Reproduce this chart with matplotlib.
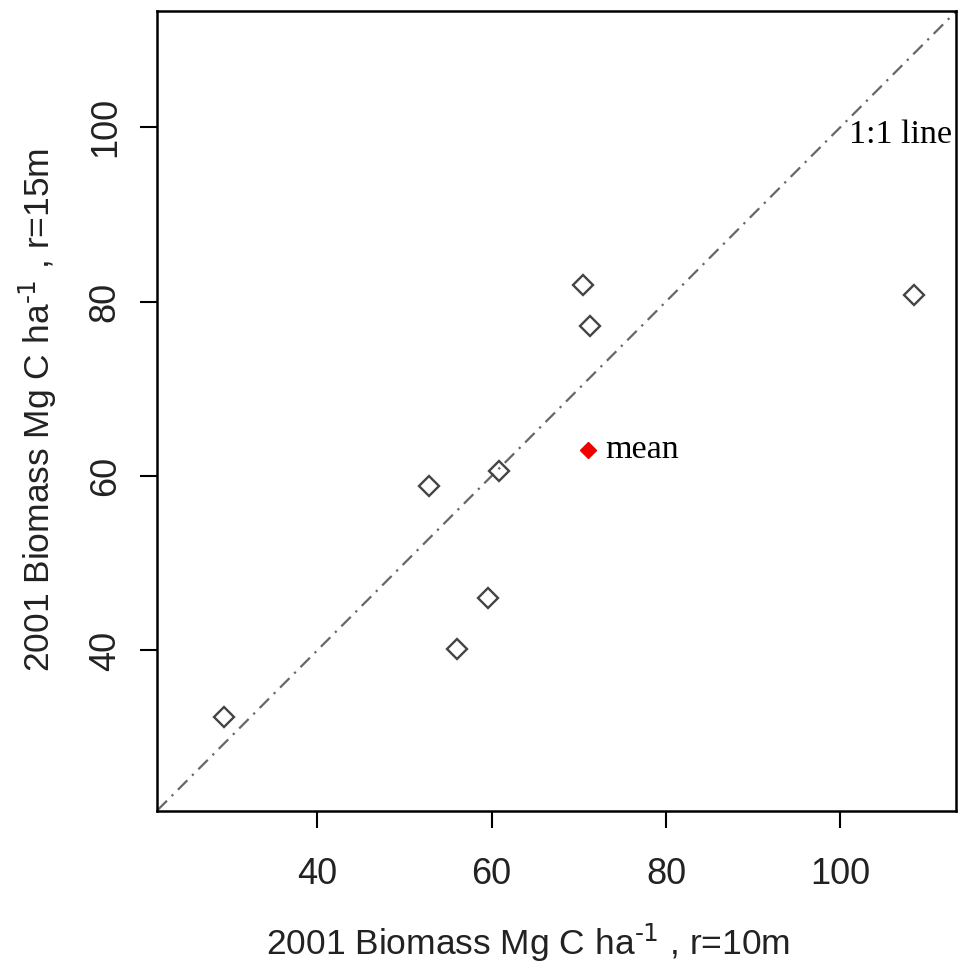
"""
2001 biomass: r=10m plot radius vs r=15m plot radius, with 1:1 line and mean.
"""

import matplotlib
matplotlib.use("Agg")
import matplotlib.pyplot as plt

# plot values (Mg C / ha)
biomass_10m = [29.3, 52.8, 56.0, 59.6, 60.9, 70.5, 71.3, 108.4]
biomass_15m = [32.4, 58.8, 40.2, 46.0, 60.6, 81.9, 77.2, 80.8]
mean_10m, mean_15m = 71.1, 63.0

ticks = [40, 60, 80, 100]
lims_x = (21.7, 113.3)
lims_y = (21.6, 113.3)

plt.rcParams["font.family"] = ["Liberation Sans", "DejaVu Sans"]
plt.rcParams["mathtext.default"] = "regular"

fig = plt.figure(figsize=(9.68, 9.67), dpi=100)
ax = fig.add_axes([0.1627, 0.1613, 0.8254, 0.8273])

# 1:1 line
ax.plot(lims_x, lims_x, color="#666666", lw=1.6, linestyle=(0, (6, 3, 1, 3)), zorder=1)

ax.plot(biomass_10m, biomass_15m, linestyle="none", marker="D", ms=10,
        mfc="none", mec="#444444", mew=1.7, zorder=3)
ax.plot([mean_10m], [mean_15m], linestyle="none", marker="D", ms=8.5,
        mfc="#ee0000", mec="#ee0000", zorder=4)

SERIF = ["Liberation Serif", "DejaVu Serif"]
ax.text(mean_10m + 1.9, mean_15m, "mean", family=SERIF, fontsize=24.5,
        ha="left", va="center")
ax.text(101.0, 99.1, "1:1 line", family=SERIF, fontsize=24.5,
        ha="left", va="center")

ax.set_xlim(*lims_x)
ax.set_ylim(*lims_y)
ax.set_xticks(ticks)
ax.set_yticks(ticks)
ax.tick_params(axis="both", direction="out", length=12, width=1.5, labelsize=26,
               labelcolor="#222222")
ax.tick_params(axis="x", pad=21)
ax.tick_params(axis="y", pad=13)
for lbl in ax.get_yticklabels():
    lbl.set_rotation(90)
    lbl.set_va("center")

for sp in ax.spines.values():
    sp.set_linewidth(1.8)

fig.text(528 / 968, 1 - 943 / 967, r"2001 Biomass Mg C ha$^{\text{-1}}$ , r=10m",
         fontsize=25.5, ha="center", va="center", color="#222222")
fig.text(38 / 968, 1 - 410 / 967, r"2001 Biomass Mg C ha$^{\text{-1}}$ , r=15m",
         fontsize=25.5, ha="center", va="center", rotation=90, color="#222222")

fig.savefig("out.png", dpi=100, facecolor="white")
